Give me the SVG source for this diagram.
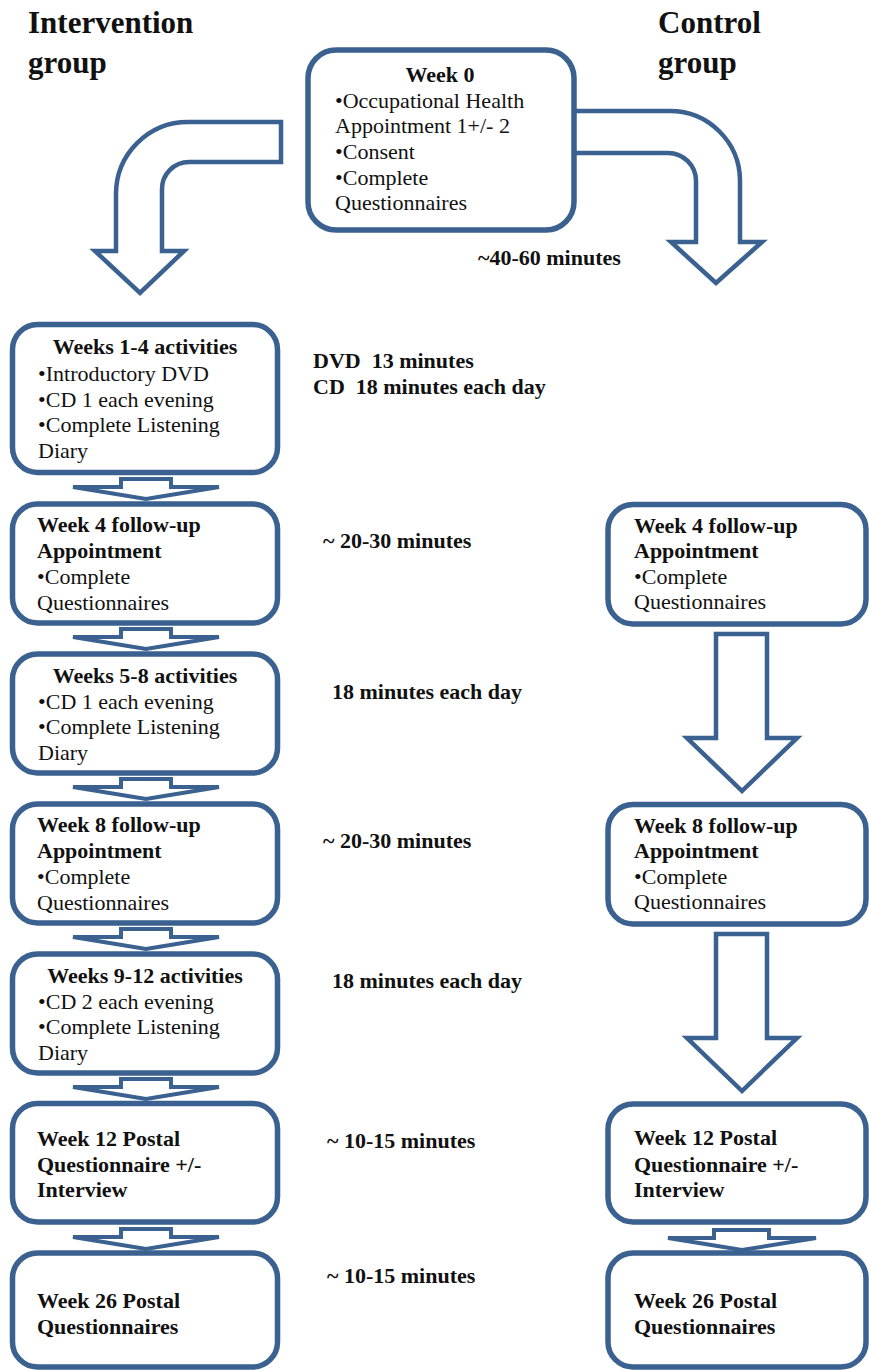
<svg xmlns="http://www.w3.org/2000/svg" width="869" height="1370" viewBox="0 0 869 1370">
<style>
.box{fill:#fff;stroke:#3B6190;stroke-width:5.5}
.arr{fill:#fff;stroke:#3B6190;stroke-width:4.5;stroke-linejoin:miter}
.sm{fill:#fff;stroke:#3B6190;stroke-width:4;stroke-linejoin:miter}
text{font-family:"Liberation Serif","Times New Roman",serif;font-size:22px;fill:#111}
.b{font-weight:bold}
.t{font-weight:bold;font-size:31px}
.c{text-anchor:middle}
.pre{white-space:pre}
</style>
<rect width="869" height="1370" fill="#fff"/>
<g id="titles">
<text class="t" x="28" y="33">Intervention</text>
<text class="t" x="28" y="73">group</text>
<text class="t" x="658" y="33">Control</text>
<text class="t" x="658" y="73">group</text>
</g>
<g id="connectors">
<path class="arr" d="M281,122 H188 A72,72 0 0 0 116,194 V251 H95 L140,293 L184,251 H162 V189 A27,27 0 0 1 189,162 H281 Z"/>
<path class="arr" d="M560,111 H670 A70,70 0 0 1 740,181 V242 H762 L716,283 L671,242 H696 V181 A28,28 0 0 0 668,153 H560 Z"/>
<path class="sm" d="M121,479 H171 V487 H219 L146,499 L73,487 H121 Z"/>
<path class="sm" d="M121,629 H171 V637 H219 L146,649 L73,637 H121 Z"/>
<path class="sm" d="M121,779 H171 V787 H219 L146,799 L73,787 H121 Z"/>
<path class="sm" d="M121,929 H171 V937 H219 L146,949 L73,937 H121 Z"/>
<path class="sm" d="M121,1079 H171 V1087 H219 L146,1099 L73,1087 H121 Z"/>
<path class="sm" d="M121,1229 H171 V1237 H219 L146,1249 L73,1237 H121 Z"/>
<path class="arr" d="M716,634 H767 V738 H797 L742,791 L687,738 H716 Z"/>
<path class="arr" d="M716,934 H767 V1038 H797 L742,1091 L687,1038 H716 Z"/>
<path class="sm" d="M714,1230 H769 V1238 H816 L742,1250 L668,1238 H714 Z"/>
</g>
<g id="week0">
<rect class="box" x="308" y="50" width="266" height="180" rx="28"/>
<text class="b c" x="440" y="82">Week 0</text>
<text x="335" y="108">•Occupational Health</text>
<text x="335" y="133">Appointment 1+/- 2</text>
<text x="335" y="159">•Consent</text>
<text x="335" y="185">•Complete</text>
<text x="335" y="210">Questionnaires</text>
</g>
<g id="labels">
<text class="b" x="478" y="265">~40-60 minutes</text>
<text class="b pre" x="313" y="368">DVD  13 minutes</text>
<text class="b pre" x="313" y="394">CD  18 minutes each day</text>
<text class="b" x="323" y="548">~ 20-30 minutes</text>
<text class="b" x="332" y="699">18 minutes each day</text>
<text class="b" x="323" y="848">~ 20-30 minutes</text>
<text class="b" x="332" y="988">18 minutes each day</text>
<text class="b" x="327" y="1148">~ 10-15 minutes</text>
<text class="b" x="327" y="1283">~ 10-15 minutes</text>
</g>
<g id="i-weeks1-4">
<rect class="box" x="12.5" y="324.5" width="265" height="148" rx="25"/>
<text class="b c" x="145" y="354">Weeks 1-4 activities</text>
<text x="38" y="381">•Introductory DVD</text>
<text x="38" y="407">•CD 1 each evening</text>
<text x="38" y="432">•Complete Listening</text>
<text x="38" y="458">Diary</text>
</g>
<g id="i-week4">
<rect class="box" x="12.5" y="504" width="265" height="119" rx="25"/>
<text class="b" x="37" y="532">Week 4 follow-up</text>
<text class="b" x="37" y="558">Appointment</text>
<text x="37" y="584">•Complete</text>
<text x="37" y="610">Questionnaires</text>
</g>
<g id="i-weeks5-8">
<rect class="box" x="12.5" y="654" width="265" height="119" rx="25"/>
<text class="b c" x="145" y="683">Weeks 5-8 activities</text>
<text x="38" y="709">•CD 1 each evening</text>
<text x="38" y="734">•Complete Listening</text>
<text x="38" y="760">Diary</text>
</g>
<g id="i-week8">
<rect class="box" x="12.5" y="804" width="265" height="119" rx="25"/>
<text class="b" x="37" y="832">Week 8 follow-up</text>
<text class="b" x="37" y="858">Appointment</text>
<text x="37" y="884">•Complete</text>
<text x="37" y="910">Questionnaires</text>
</g>
<g id="i-weeks9-12">
<rect class="box" x="12.5" y="954" width="265" height="119" rx="25"/>
<text class="b c" x="145" y="983">Weeks 9-12 activities</text>
<text x="38" y="1009">•CD 2 each evening</text>
<text x="38" y="1034">•Complete Listening</text>
<text x="38" y="1060">Diary</text>
</g>
<g id="i-week12">
<rect class="box" x="12.5" y="1103.5" width="265" height="118.5" rx="25"/>
<text class="b" x="37" y="1146">Week 12 Postal</text>
<text class="b" x="37" y="1172">Questionnaire +/-</text>
<text class="b" x="37" y="1197">Interview</text>
</g>
<g id="i-week26">
<rect class="box" x="12.5" y="1253" width="265" height="114" rx="25"/>
<text class="b" x="37" y="1308">Week 26 Postal</text>
<text class="b" x="37" y="1334">Questionnaires</text>
</g>
<g id="c-week4">
<rect class="box" x="608" y="504.5" width="258" height="119.5" rx="25"/>
<text class="b" x="634" y="533">Week 4 follow-up</text>
<text class="b" x="634" y="558">Appointment</text>
<text x="634" y="584">•Complete</text>
<text x="634" y="609">Questionnaires</text>
</g>
<g id="c-week8">
<rect class="box" x="608" y="804.5" width="258" height="119.5" rx="25"/>
<text class="b" x="634" y="833">Week 8 follow-up</text>
<text class="b" x="634" y="858">Appointment</text>
<text x="634" y="884">•Complete</text>
<text x="634" y="909">Questionnaires</text>
</g>
<g id="c-week12">
<rect class="box" x="608" y="1104" width="258" height="118" rx="25"/>
<text class="b" x="634" y="1145">Week 12 Postal</text>
<text class="b" x="634" y="1172">Questionnaire +/-</text>
<text class="b" x="634" y="1197">Interview</text>
</g>
<g id="c-week26">
<rect class="box" x="608" y="1253" width="258" height="114" rx="25"/>
<text class="b" x="634" y="1308">Week 26 Postal</text>
<text class="b" x="634" y="1334">Questionnaires</text>
</g>
</svg>
